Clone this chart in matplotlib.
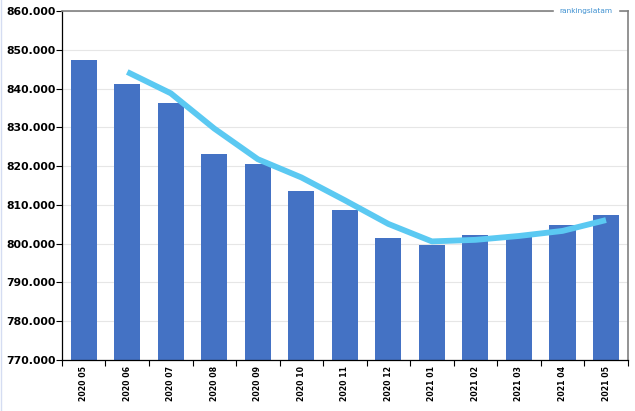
import matplotlib.pyplot as plt
import numpy as np
from matplotlib.lines import Line2D
from matplotlib.ticker import FuncFormatter

months = ['2020 05', '2020 06', '2020 07', '2020 08', '2020 09', '2020 10', '2020 11',
          '2020 12', '2021 01', '2021 02', '2021 03', '2021 04', '2021 05']
# values in thousands
bars = [847.4, 841.2, 836.3, 823.1, 820.5, 813.6, 808.7,
        801.5, 799.7, 802.2, 801.7, 804.8, 807.4]
trend = [np.nan, 844.3, 838.8, 829.7, 821.8, 817.1, 811.2,
         805.1, 800.6, 801.0, 802.0, 803.3, 806.1]

fig = plt.figure(figsize=(6.35, 4.11), dpi=100)
ax = fig.add_axes([0.0976, 0.124, 0.891, 0.849])

x = np.arange(len(months))
ax.bar(x, bars, width=0.6, color='#4472C4', zorder=2)
ax.plot(x, trend, color='#5BC9F2', lw=4.2, solid_capstyle='butt', zorder=3)

ax.set_ylim(770, 860)
ax.set_xlim(-0.5, len(months) - 0.5)
ax.set_yticks(np.arange(770, 861, 10))
ax.yaxis.set_major_formatter(FuncFormatter(lambda v, p: f'{int(v)}.000'))
ax.yaxis.grid(True, color='#E6E6E6', lw=0.8, zorder=0)
ax.tick_params(axis='y', labelsize=7.8, length=4, width=0.8, pad=0.8)
for lab in ax.get_yticklabels():
    lab.set_fontweight('bold')

ax.set_xticks(x)
ax.set_xticklabels(months, rotation=90, fontsize=5.6, fontweight='bold')
ax.tick_params(axis='x', length=0, pad=4.5)
ax.set_xticks(np.arange(-0.5, len(months)), minor=True)
ax.tick_params(axis='x', which='minor', length=4, width=0.8)

for s in ['left', 'bottom']:
    ax.spines[s].set_color('black')
    ax.spines[s].set_linewidth(0.9)
for s in ['top', 'right']:
    ax.spines[s].set_color('#808080')
    ax.spines[s].set_linewidth(1.2)

ax.text(0.926, 1.0, 'rankingslatam', transform=ax.transAxes, ha='center', va='center',
        fontsize=5.3, color='#3C8FD0', backgroundcolor='white', zorder=5)

fig.add_artist(Line2D([0.001, 0.001], [0, 1], color='#D5DDF2', lw=1.0, transform=fig.transFigure))

fig.savefig('out.png', dpi=100)
